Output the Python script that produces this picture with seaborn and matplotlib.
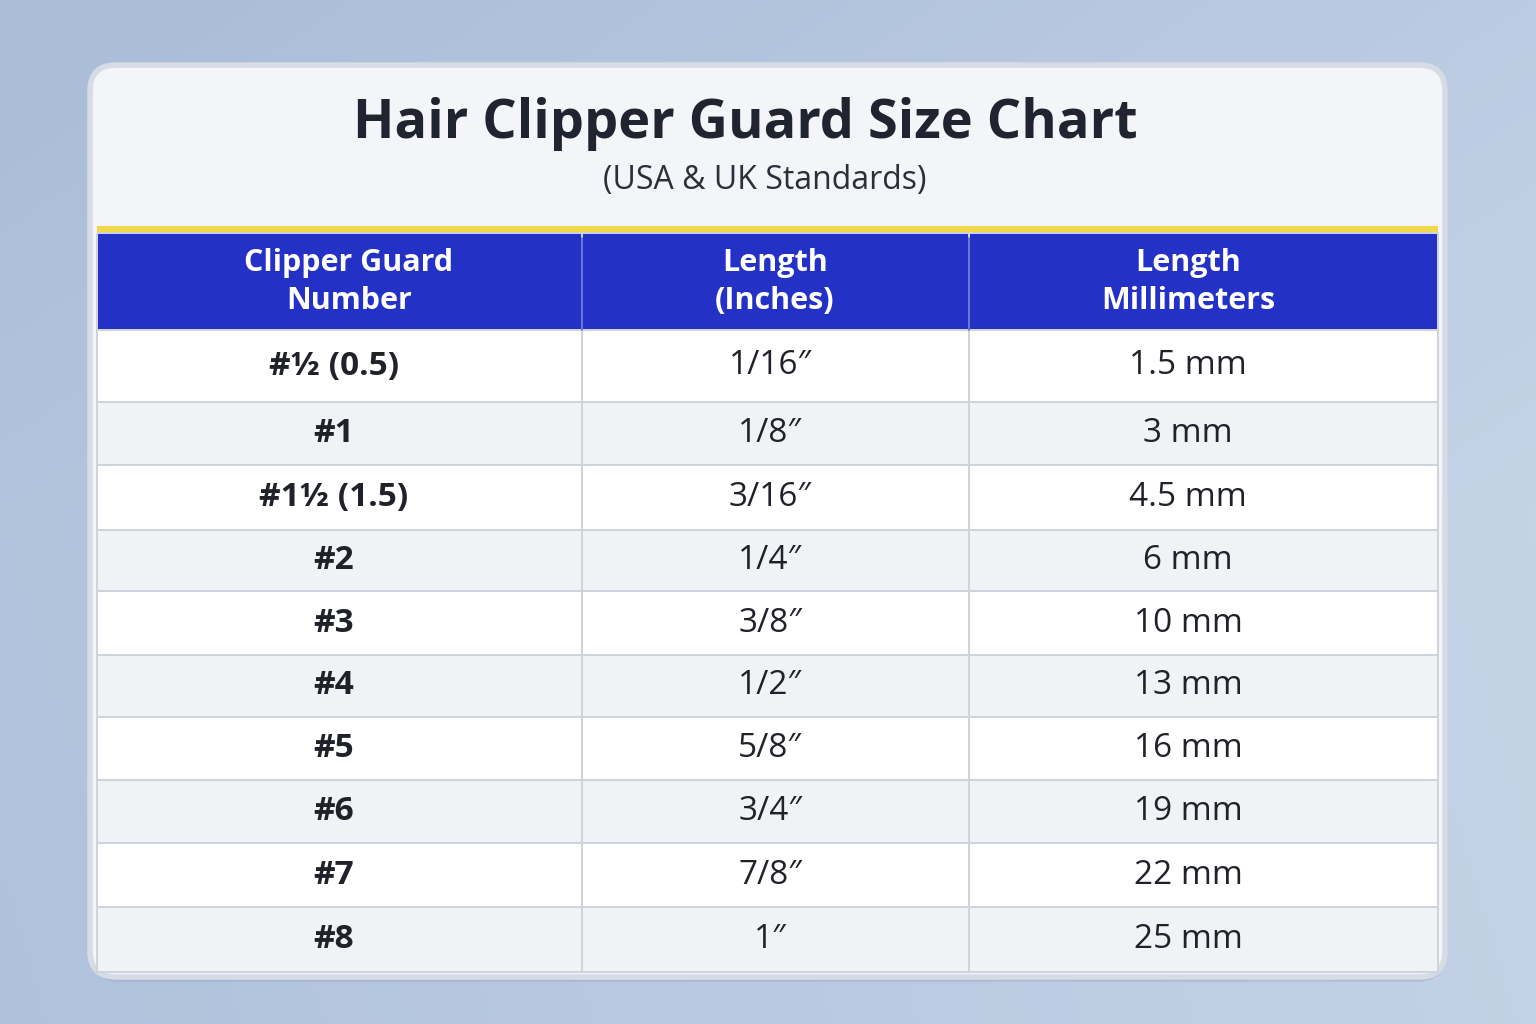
import numpy as np
import matplotlib
matplotlib.use("Agg")
import matplotlib.pyplot as plt
import seaborn as sns
from matplotlib.patches import FancyBboxPatch, Rectangle

sns.set_theme(style="white")
plt.rcParams['font.family'] = ['Open Sans', 'DejaVu Sans']

title = "Hair Clipper Guard Size Chart"
subtitle = "(USA & UK Standards)"
headers = ["Clipper Guard\nNumber", "Length\n(Inches)", "Length\nMillimeters"]
guards = ["#½ (0.5)", "#1", "#1½ (1.5)", "#2", "#3", "#4", "#5", "#6", "#7", "#8"]
inches = ["1/16″", "1/8″", "3/16″", "1/4″", "3/8″", "1/2″", "5/8″", "3/4″", "7/8″", "1″"]
mm = ["1.5 mm", "3 mm", "4.5 mm", "6 mm", "10 mm", "13 mm", "16 mm", "19 mm", "22 mm", "25 mm"]

W, H = 1536, 1024
fig = plt.figure(figsize=(15.36, 10.24), dpi=100)
bg = fig.add_axes([0, 0, 1, 1])
yy, xx = np.mgrid[0:1:200j, 0:1:300j]
grad = 0.5 * xx + 0.5 * (1 - np.abs(yy - 0.5) * 2) * 0.3 + 0.2 * yy
bg.imshow(grad, cmap=sns.blend_palette(["#a9bcd8", "#c4d3e6"], as_cmap=True),
          extent=[0, W, H, 0], aspect='auto')
bg.set_xlim(0, W); bg.set_ylim(H, 0); bg.axis('off')

bg.add_patch(FancyBboxPatch((92, 70), 1353, 912, boxstyle="round,pad=0,rounding_size=28",
                            fc="#8fa3c2", ec="none", alpha=0.35, zorder=1))
bg.add_patch(FancyBboxPatch((90, 65), 1355, 912, boxstyle="round,pad=0,rounding_size=26",
                            fc="#f4f5f8", ec="#d6dbe6", lw=4, zorder=2))
bg.add_patch(Rectangle((97, 226), 1341, 6, fc="#f2d64b", ec="none", zorder=3))
bg.text(745, 124, title, ha='center', va='center', fontsize=39, fontweight='bold',
        color="#1f2430", zorder=4)
bg.text(765, 180, subtitle, ha='center', va='center', fontsize=23, color="#2a2f3a", zorder=4)

col_edges = np.array([97, 582, 969, 1438])
row_edges = np.array([233, 330, 402, 465, 530, 591, 655, 717, 780, 843, 907, 972])
n = len(guards)
stripe = np.array([[2]] + [[i % 2] for i in range(n)]).repeat(3, axis=1).astype(float)
cmap = matplotlib.colors.ListedColormap(["#ffffff", "#f1f2f5", "#2431c6"])
bg.pcolormesh(col_edges, row_edges, stripe, cmap=cmap, vmin=-0.5, vmax=2.5,
              edgecolors="#cfd3dc", linewidth=1.2, zorder=3)
for x in col_edges[1:-1]:
    bg.plot([x, x], [238, 330], color="#5563d8", lw=1.2, zorder=4)

cx = [349, 775, 1188]
for j, h in enumerate(headers):
    bg.text(cx[j], 282, h, ha='center', va='center', fontsize=22, fontweight='bold',
            color='white', linespacing=1.35, zorder=5)
for i in range(n):
    yc = (row_edges[i + 1] + row_edges[i + 2]) / 2
    bg.text(cx[0] - 15, yc, guards[i], ha='center', va='center', fontsize=24,
            fontweight='bold', color="#1f2229", zorder=5)
    bg.text(cx[1] - 5, yc, inches[i], ha='center', va='center', fontsize=24,
            color="#1f2229", zorder=5)
    bg.text(cx[2], yc, mm[i], ha='center', va='center', fontsize=24,
            color="#1f2229", zorder=5)

fig.savefig("out.png", dpi=100)
